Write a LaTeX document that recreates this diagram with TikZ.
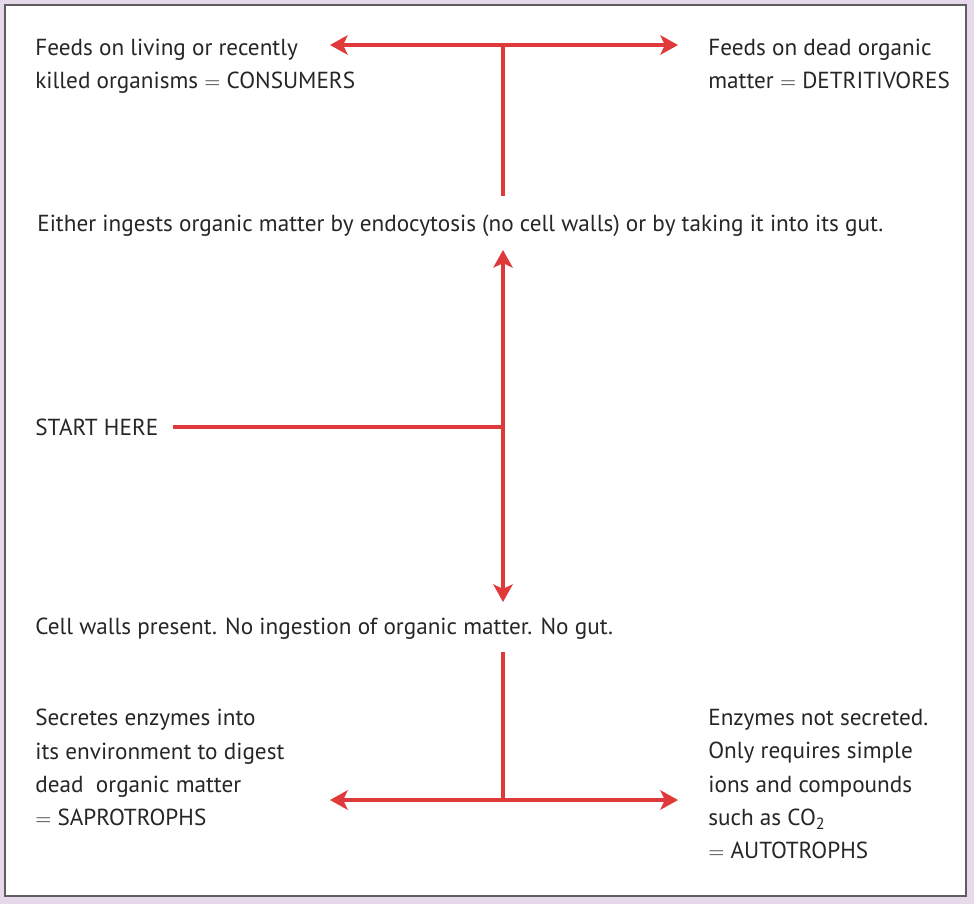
\documentclass[tikz,border=0pt]{standalone}
\usepackage{fontspec}
\setmainfont{PT Sans}
\usepackage{tikz}
\usetikzlibrary{arrows.meta, positioning}
\definecolor{keyred}{HTML}{E0393A}
\definecolor{panelbg}{HTML}{E6DAEA}
\definecolor{panelline}{HTML}{5E5E5E}
\tikzstyle{label} = [inner sep=0pt, anchor=north west, align=left, text=black!85, font=\fontsize{13.2}{18.9}\selectfont]
\tikzstyle{line} = [draw=keyred, line width=1.8pt]
\tikzstyle{arrow} = [line, -{Stealth[length=10pt, width=11pt, inset=2.5pt]}]

\begin{document}
\begin{tikzpicture}[x=0.02cm, y=-0.02cm]

				% background and frame
				\fill[panelbg] (0,0) rectangle (974,904);
				\draw[panelline, fill=white, line width=1pt] (5,5) rectangle (966,896);

				\node (consumers) [label] at (35,39) {Feeds on living or recently\\killed organisms $=$ CONSUMERS};
				\node (detritivores) [label] at (708,39) {Feeds on dead organic\\matter $=$ DETRITIVORES};
				\node (ingest) [label] at (37,215) {Either ingests organic matter by endocytosis (no cell walls) or by taking it into its gut.};
				\node (start) [label] at (35,419) {START HERE};
				\node (walls) [label] at (35,618) {Cell walls present. No ingestion of organic matter. No gut.};
				\node (saprotrophs) [label] at (35,709) {Secretes enzymes into\\its environment to digest\\dead\ \ organic matter\\$=$ SAPROTROPHS};
				\node (autotrophs) [label] at (708,709) {Enzymes not secreted.\\Only requires simple\\ions and compounds\\such as CO\textsubscript{2}\\$=$ AUTOTROPHS};

				\coordinate (topjoin) at (503,45);
				\coordinate (midjoin) at (503,427);
				\coordinate (lowjoin) at (503,800);

				% upper branch
				\draw [line] (topjoin) -- (503,196);
				\draw [arrow] (topjoin) -- (330,45);
				\draw [arrow] (topjoin) -- (678,45);

				% start and the two choices
				\draw [line, shorten <=8pt] (start.east |- midjoin) -- (midjoin);
				\draw [arrow] (midjoin) -- (503,250);
				\draw [arrow] (midjoin) -- (503,602);

				% lower branch
				\draw [line] (503,652) -- (lowjoin);
				\draw [arrow] (lowjoin) -- (330,800);
				\draw [arrow] (lowjoin) -- (678,800);

\end{tikzpicture}
\end{document}
